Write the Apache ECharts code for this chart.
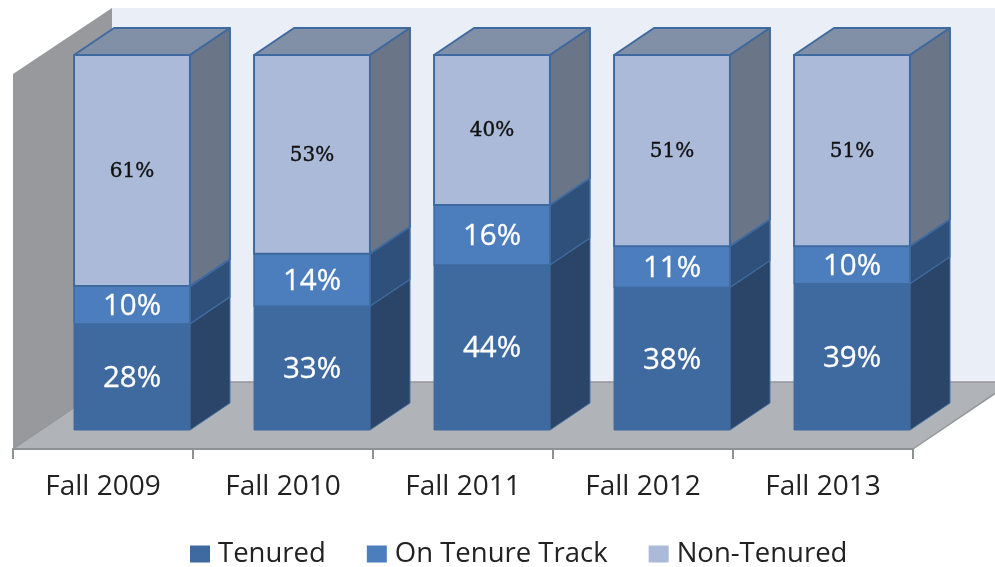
<!DOCTYPE html>
<html><head><meta charset="utf-8">
<style>html,body{margin:0;padding:0;background:#fff}#c{width:995px;height:567px}</style>
<script src="https://cdn.jsdelivr.net/npm/echarts@6/dist/echarts.min.js"></script>
</head><body><div id="c"></div>
<script>
const categories = ['Fall 2009','Fall 2010','Fall 2011','Fall 2012','Fall 2013'];
const tenured = [28,33,44,38,39];
const onTenureTrack = [10,14,16,11,10];
const nonTenured = [61,53,40,51,51];

const chart = echarts.init(document.getElementById('c'), null, {renderer:'canvas'});
const FLOOR_DX = 99, FLOOR_DY = -67, BAR_DX = 40, BAR_DY = -27, SHIFT_DX = 29, SHIFT_DY = -19, BAR_W = 0.644;

function stackedRows(values, lower) {
  return values.map((v, i) => {
    const total = tenured[i] + onTenureTrack[i] + nonTenured[i];
    const base = lower.reduce((s, arr) => s + arr[i], 0);
    return [i, base / total * 100, (base + v) / total * 100, v];
  });
}
function poly(points, fill, stroke, sw, z2) {
  return {type:'polygon', shape:{points}, z2: z2 || 0,
    style:{fill, stroke: stroke || null, lineWidth: sw || 0, lineJoin:'round'}};
}
function barRender(c) {
  return function (params, api) {
    const i = api.value(0);
    const p0 = api.coord([i, api.value(1)]);
    const p1 = api.coord([i, api.value(2)]);
    const w = api.size([1, 0])[0] * BAR_W;
    const xl = p0[0] + SHIFT_DX - w / 2, xr = xl + w;
    const yb = p0[1] + SHIFT_DY, yt = p1[1] + SHIFT_DY;
    return {type:'group', children:[
      poly([[xl,yt],[xr,yt],[xr+BAR_DX,yt+BAR_DY],[xl+BAR_DX,yt+BAR_DY]], c.top, c.edge, c.sw),
      poly([[xr,yb],[xr+BAR_DX,yb+BAR_DY],[xr+BAR_DX,yt+BAR_DY],[xr,yt]], c.side, c.edge, c.sw),
      poly([[xl,yb],[xr,yb],[xr,yt],[xl,yt]], c.front, c.edge, c.sw),
      {type:'text', z2:5, style:{text: api.value(3) + '%', x:(xl+xr)/2, y:(yb+yt)/2 + c.dy, align:'center', verticalAlign:'middle',
        fill:c.text, font:c.font, stroke:c.text, lineWidth:c.tw}}
    ]};
  };
}
function wallRender(params, api) {
  const a = api.coord([0, 0]), t = api.coord([0, 100]);
  const half = api.size([1, 0])[0] / 2;
  const x0 = a[0] - half, x1 = x0 + 900, y0 = a[1], yT = t[1];
  return {type:'group', children:[
    poly([[x0+FLOOR_DX,y0+FLOOR_DY],[1100,y0+FLOOR_DY],[1100,yT+FLOOR_DY+1],[x0+FLOOR_DX,yT+FLOOR_DY+1]], '#E9EEF7'),
    poly([[x0,y0],[x0+FLOOR_DX,y0+FLOOR_DY],[x0+FLOOR_DX,yT+FLOOR_DY+1],[x0,yT]], '#97999C'),
    poly([[x0,y0],[x1,y0],[x1+FLOOR_DX,y0+FLOOR_DY],[x0+FLOOR_DX,y0+FLOOR_DY]], '#B0B3B7', '#94979A', 1.5)
  ]};
}
const seriesDefs = [
  {name:'Tenured', values:tenured, lower:[], c:{front:'#3F6A9F', side:'#2A4568', top:'#2F4E76', edge:'#3F6A9F', sw:1, text:'#fff', dy:1.5, tw:0.3, font:'500 29.5px "Open Sans"'}},
  {name:'On Tenure Track', values:onTenureTrack, lower:[tenured], c:{front:'#4C7DBC', side:'#2F507A', top:'#38598A', edge:'#3F6A9F', sw:1.5, text:'#fff', dy:1.5, tw:0.3, font:'500 29.5px "Open Sans"'}},
  {name:'Non-Tenured', values:nonTenured, lower:[tenured, onTenureTrack], c:{front:'#ABBAD8', side:'#6A7588', top:'#8290A7', edge:'#3F6A9F', sw:2, text:'#111', dy:1, tw:0.4, font:'500 20px "DejaVu Serif"'}}
];
chart.setOption({
  animation:false,
  backgroundColor:'#fff',
  grid:{left:13, width:900, top:74, height:375, containLabel:false},
  xAxis:{type:'category', data:categories, boundaryGap:true, z:6,
    axisLine:{show:true, lineStyle:{color:'#8F9295', width:2}},
    axisTick:{show:true, length:10, lineStyle:{color:'#8F9295', width:2}},
    axisLabel:{color:'#222', fontFamily:'Open Sans', fontSize:28, margin:24, interval:0},
    splitLine:{show:false}},
  yAxis:{type:'value', min:0, max:100, interval:20, show:false, splitLine:{show:false}},
  legend:{left:185, top:535, icon:'rect', itemWidth:20, itemHeight:17, itemGap:41, selectedMode:false,
    textStyle:{color:'#222', fontFamily:'Open Sans', fontSize:27.5, padding:[0,0,0,3]},
    data:seriesDefs.map(s => ({name:s.name, itemStyle:{color:s.c.front}}))},
  series:[
    {type:'custom', name:'walls', silent:true, clip:false, z:1, renderItem:wallRender, data:[[0,0]], encode:{x:0,y:1}},
    ...seriesDefs.map((s, k) => ({type:'custom', name:s.name, clip:false, z:2 + k, itemStyle:{color:s.c.front},
      renderItem:barRender(s.c), data:stackedRows(s.values, s.lower), encode:{x:0,y:[1,2]}}))
  ]
});
</script></body></html>
